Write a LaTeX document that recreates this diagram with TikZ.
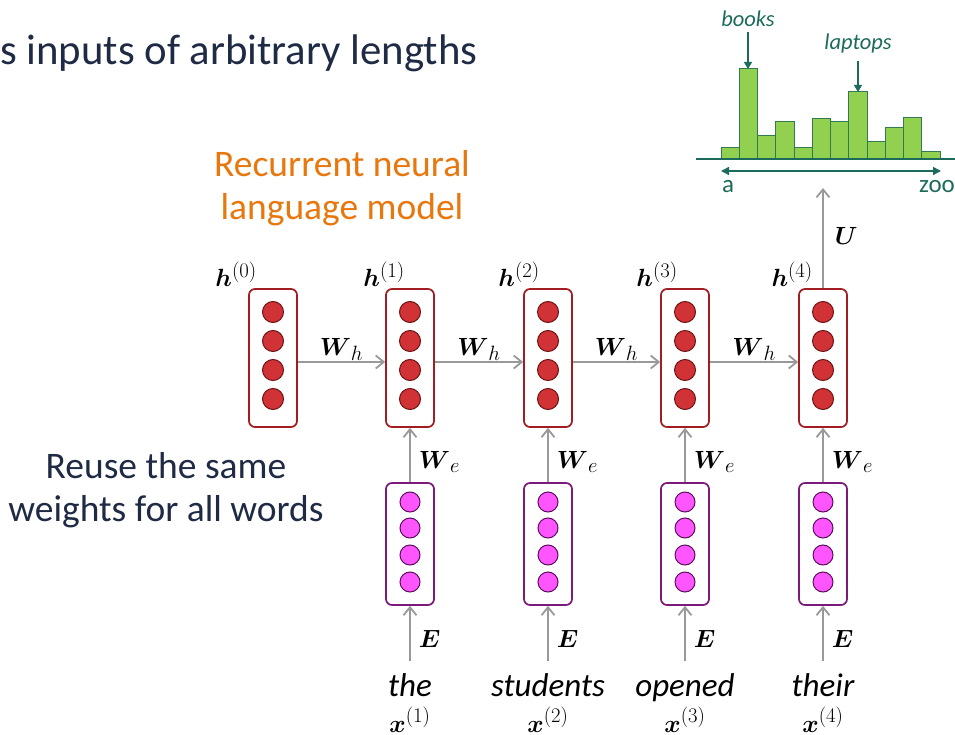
\documentclass[tikz,border=0pt]{standalone}
\usepackage{amsmath}
\usepackage[no-math]{fontspec}
\setmainfont{Carlito}
\usetikzlibrary{arrows.meta}

\definecolor{hred}{HTML}{A11D22}
\definecolor{hdot}{HTML}{D13236}
\definecolor{hdotline}{HTML}{6E1214}
\definecolor{epurple}{HTML}{7B1A7B}
\definecolor{edot}{HTML}{FF55FF}
\definecolor{edotline}{HTML}{5A0F5A}
\definecolor{conngray}{HTML}{999999}
\definecolor{navy}{HTML}{1F2A44}
\definecolor{orangetxt}{HTML}{E8770E}
\definecolor{barfill}{HTML}{92D050}
\definecolor{barline}{HTML}{337A52}
\definecolor{teal}{HTML}{1D6B5B}

\newcommand{\mfont}{\fontsize{32}{37}\selectfont}

\begin{document}
\begin{tikzpicture}[x=1pt,y=-1pt,
  hidbox/.style={draw=hred,line width=1.7pt,rounded corners=6pt,fill=white,
    minimum width=48pt,minimum height=138pt,inner sep=0pt},
  embbox/.style={draw=epurple,line width=1.7pt,rounded corners=6pt,fill=white,
    minimum width=48pt,minimum height=122pt,inner sep=0pt},
  hdotstyle/.style={circle,draw=hdotline,fill=hdot,line width=1pt,minimum size=21pt,inner sep=0pt},
  edotstyle/.style={circle,draw=edotline,fill=edot,line width=1pt,minimum size=20pt,inner sep=0pt},
  conn/.style={draw=conngray,line width=1.9pt,-{Straight Barb[length=8pt,width=13pt,line width=1.8pt]}},
  mlabel/.style={font=\mfont,inner sep=0pt,text=black},
  wordlabel/.style={font=\fontsize{33}{38}\selectfont\itshape,inner sep=0pt,anchor=base},
  slidetext/.style={font=\fontsize{37.5}{43}\selectfont,inner sep=0pt,align=center},
  bar/.style={draw=barline,fill=barfill,line width=1pt},
  histtext/.style={text=teal,inner sep=0pt,anchor=base},
  pointer/.style={draw=teal,line width=1.2pt,-{Triangle[length=7pt,width=8pt]}}
]
\useasboundingbox (0,0) rectangle (955,735);

% slide text
\node[font=\fontsize{42.8}{48}\selectfont,text=navy,inner sep=0pt,anchor=base west] (title) at (0,65) {s inputs of arbitrary lengths};
\node[slidetext,text=orangetxt] (rnnlm) at (342,188) {Recurrent neural\\language model};
\node[slidetext,text=navy] (reuse) at (166,490) {Reuse the same\\weights for all words};

% hidden states
\foreach \i/\cx/\lx in {0/273/257,1/410/405,2/548/540,3/685/678,4/823/813}{
  \node[hidbox] (h\i) at (\cx,358) {};
  \foreach \k/\dy in {1/312,2/341,3/370,4/399}
    \node[hdotstyle] (h\i d\k) at (\cx,\dy) {};
  \node[mlabel,anchor=base east] (hl\i) at (\lx,287) {$\boldsymbol{h}^{(\i)}$};
}

% recurrent connections
\foreach \a/\b in {0/1,1/2,2/3,3/4}
  \draw[conn] ([yshift=-4pt]h\a.east) -- node[mlabel,anchor=base,yshift=7pt] (wh\a) {$\boldsymbol{W}_h$} ([yshift=-4pt]h\b.west);

% embeddings, inputs and words
\foreach \i/\cx/\w in {1/410/the,2/548/students,3/685/opened,4/823/their}{
  \node[embbox] (x\i) at (\cx,544) {};
  \foreach \k/\dy in {1/502,2/528,3/555,4/582}
    \node[edotstyle] (x\i d\k) at (\cx,\dy) {};
  \draw[conn] (x\i.north) -- node[mlabel,pos=0.25,anchor=base west,xshift=8pt] (we\i) {$\boldsymbol{W}_e$} (h\i.south);
  \coordinate (in\i) at (\cx,661);
  \draw[conn] (in\i) -- node[mlabel,pos=0.236,anchor=base west,xshift=8pt] (el\i) {$\boldsymbol{E}$} (x\i.south);
  \node[wordlabel] (word\i) at (\cx,696) {\w};
  \node[mlabel,anchor=base] (xl\i) at (\cx,732) {$\boldsymbol{x}^{(\i)}$};
}

% output distribution
\coordinate (outtop) at (823,188);
\draw[conn] (h4.north) -- node[mlabel,pos=0.436,anchor=base west,xshift=11pt] (ul) {$\boldsymbol{U}$} (outtop);

\foreach \j/\top in {0/148,1/69,2/136,3/122,4/148,5/119,6/122,7/92,8/142,9/128,10/118,11/152}
  \draw[bar] ({721+18.25*\j},159) rectangle ({721+18.25*(\j+1)},\top);
\draw[draw=teal,line width=1.6pt] (696,159) -- (955,159);
\coordinate (va) at (721,171);
\coordinate (vz) at (941,171);
\draw[draw=teal,line width=1.4pt,{Triangle[length=8pt,width=8pt]}-{Triangle[length=8pt,width=8pt]}] (va) -- (vz);
\node[histtext,font=\fontsize{25}{30}\selectfont] (la) at (728,193) {a};
\node[histtext,font=\fontsize{25}{30}\selectfont] (lz) at (937,193) {zoo};
\node[histtext,font=\fontsize{22.5}{27}\selectfont\itshape] (books) at (748,27) {books};
\node[histtext,font=\fontsize{22.5}{27}\selectfont\itshape] (laptops) at (858,50) {laptops};
\coordinate (booksbar) at (748,69);
\coordinate (laptopsbar) at (858,92);
\draw[pointer] ([yshift=-5pt]books.south) -- (booksbar);
\draw[pointer] ([yshift=-7pt]laptops.south) -- (laptopsbar);
\end{tikzpicture}
\end{document}
